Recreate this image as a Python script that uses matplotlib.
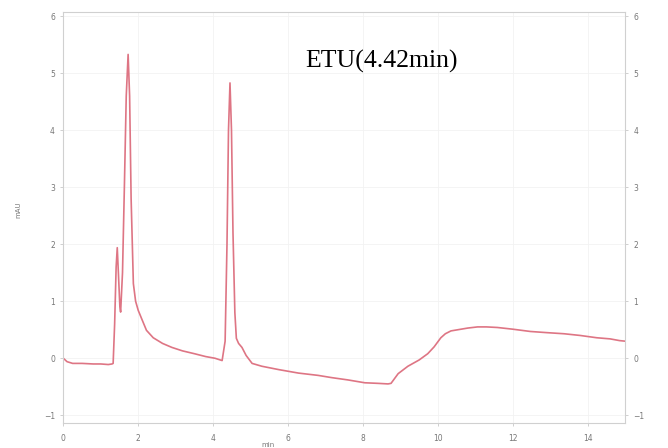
import matplotlib.pyplot as plt

# retention time (min) and detector signal (mAU)
time = [0.0, 0.1, 0.25, 0.5, 0.8, 1.0, 1.2, 1.3, 1.33, 1.37, 1.41, 1.44, 1.47,
        1.51, 1.53, 1.58, 1.63, 1.68, 1.73, 1.77, 1.81, 1.87, 1.93, 2.0, 2.1,
        2.22, 2.4, 2.65, 2.9, 3.18, 3.5, 3.8, 4.05, 4.24, 4.32, 4.37, 4.41,
        4.45, 4.49, 4.53, 4.58, 4.62, 4.68, 4.77, 4.88, 5.04, 5.3, 5.76, 6.28,
        6.8, 7.17, 7.6, 8.05, 8.4, 8.67, 8.75, 8.94, 9.2, 9.5, 9.73, 9.9,
        10.08, 10.2, 10.35, 10.53, 10.8, 11.06, 11.3, 11.59, 12.0, 12.47,
        12.9, 13.37, 13.8, 14.24, 14.6, 14.85, 15.0]
signal = [0.0, -0.06, -0.09, -0.09, -0.1, -0.1, -0.11, -0.1, -0.09, 0.6, 1.6,
          1.94, 1.5, 0.9, 0.81, 1.5, 3.0, 4.6, 5.33, 4.6, 2.8, 1.31, 1.0, 0.84,
          0.68, 0.49, 0.36, 0.26, 0.19, 0.13, 0.08, 0.03, 0.0, -0.04, 0.3,
          2.0, 4.0, 4.83, 4.0, 2.2, 0.8, 0.35, 0.26, 0.19, 0.05, -0.09, -0.14,
          -0.2, -0.26, -0.3, -0.34, -0.38, -0.43, -0.44, -0.45, -0.44, -0.27,
          -0.14, -0.03, 0.08, 0.2, 0.36, 0.43, 0.48, 0.5, 0.53, 0.55, 0.55,
          0.54, 0.51, 0.47, 0.45, 0.43, 0.4, 0.36, 0.34, 0.31, 0.3]

xticks = [0, 2, 4, 6, 8, 10, 12, 14]
yticks = [-1, 0, 1, 2, 3, 4, 5, 6]

fig = plt.figure(figsize=(6.68, 4.48), dpi=100)
ax = fig.add_axes([0.0948, 0.0565, 0.841, 0.9175])

ax.plot(time, signal, color="#de7584", lw=1.2)
ax.set_xlim(0, 15)
ax.set_ylim(-1.13, 6.08)
ax.set_xticks(xticks)
ax.set_yticks(yticks)
ax.grid(True, color="#f2f2f2", lw=0.6)

for s in ax.spines.values():
    s.set_color("#d0d0d0")
    s.set_linewidth(0.8)

ax.tick_params(axis="both", colors="#c8c8c8", labelcolor="#777777",
               labelsize=5.5, length=2.5, width=0.6)
ax.tick_params(axis="y", right=True, labelright=True)
ax.tick_params(axis="x", pad=6)

fig.text(18 / 668, 1 - 210 / 448, "mAU", rotation=90, fontsize=5,
         color="#777777", ha="center", va="center")
fig.text(268 / 668, 1 - 445 / 448, "min", fontsize=5, color="#777777",
         ha="center", va="center")
fig.text(305 / 668, 1 - 68 / 448, "ETU(4.42min)", fontsize=18.5,
         family="Liberation Serif", color="black", va="baseline")

fig.savefig("out.png", dpi=100)
